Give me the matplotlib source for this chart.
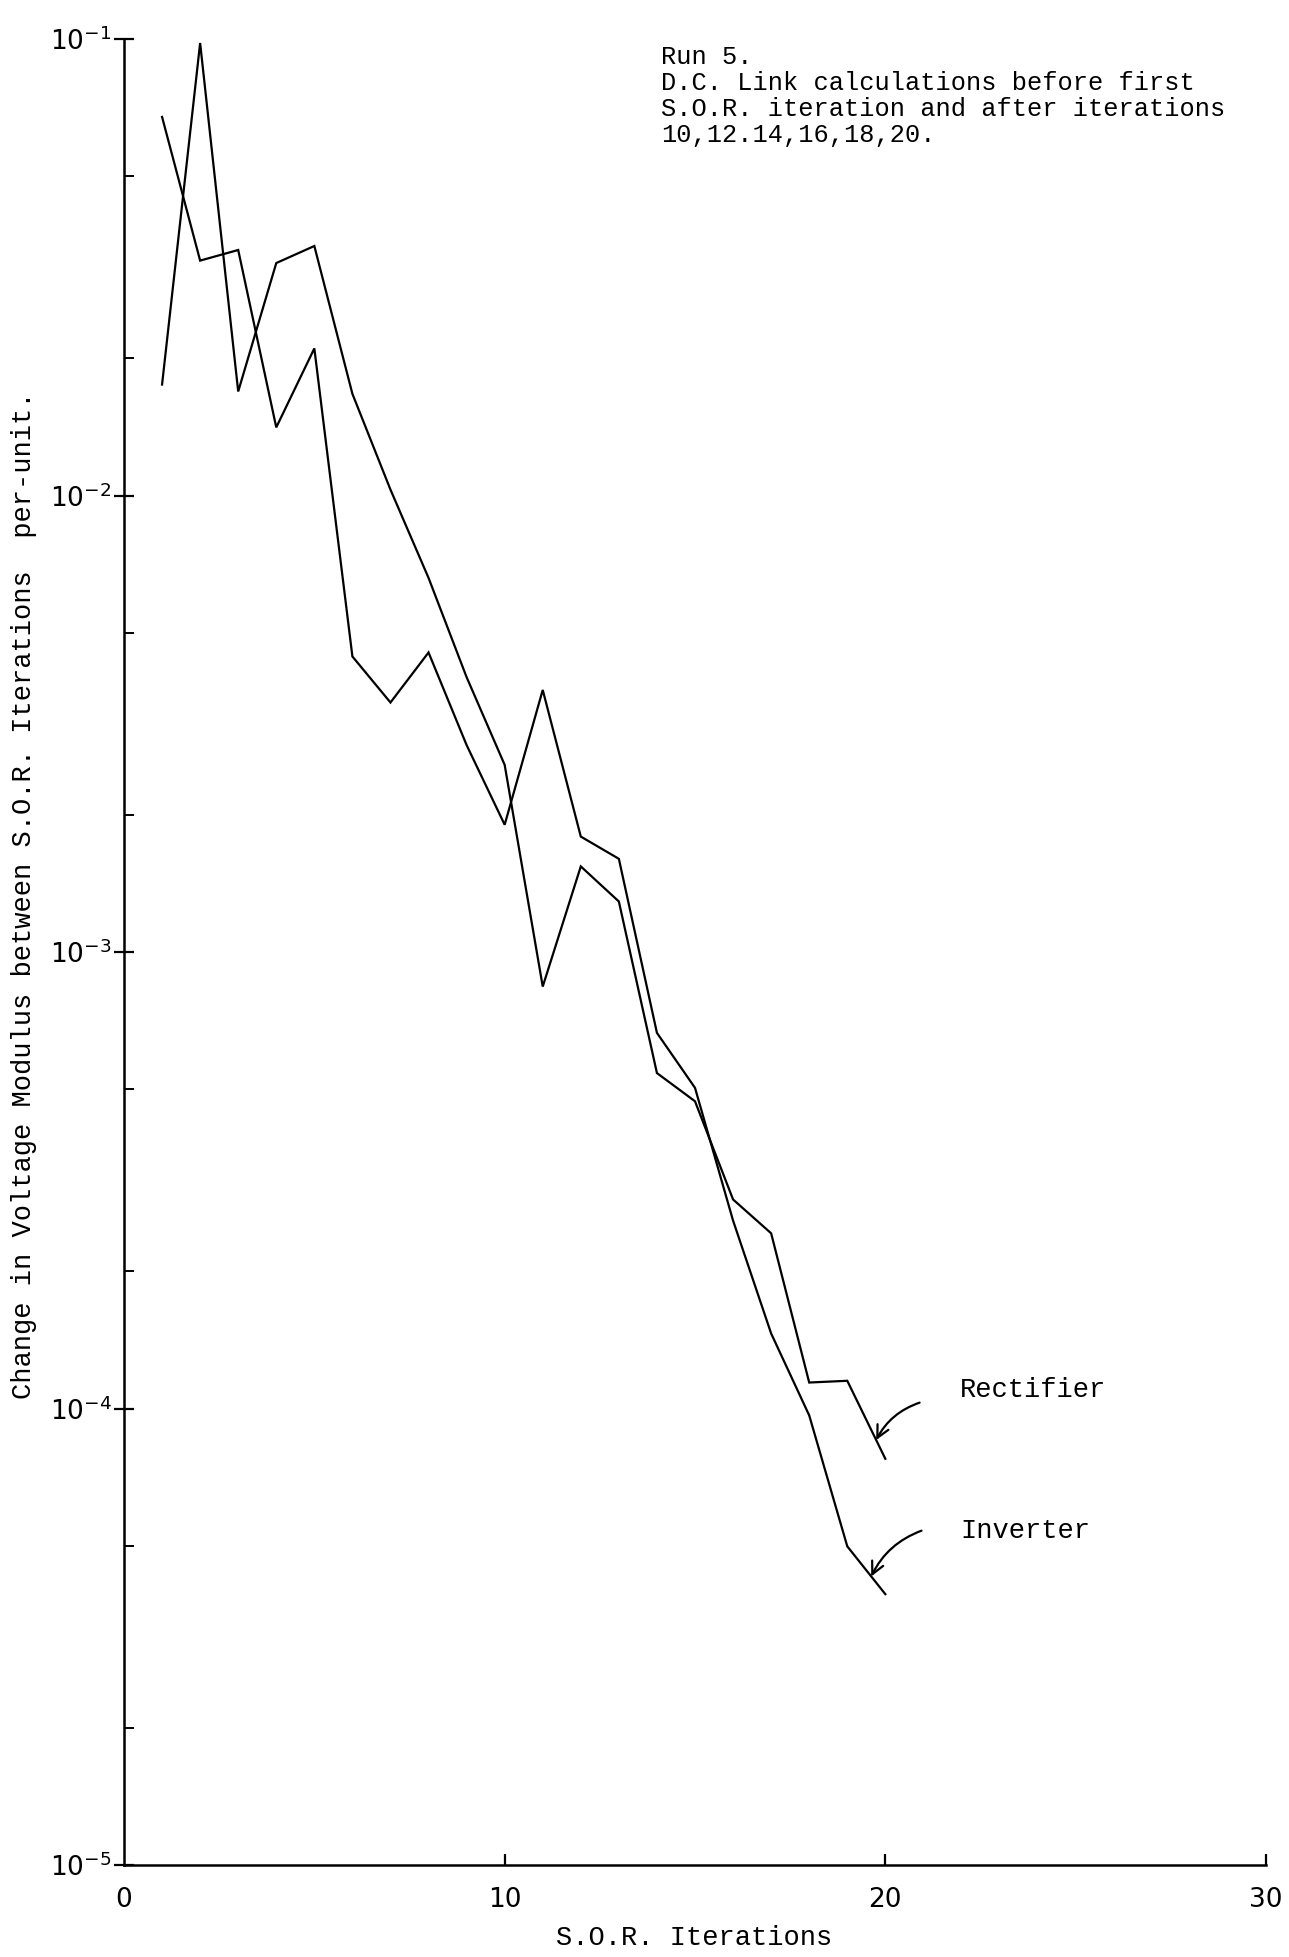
import numpy as np
import matplotlib
matplotlib.use("Agg")
import matplotlib.pyplot as plt
from matplotlib.ticker import FixedLocator, NullFormatter

# ---- data ----
iterations = list(range(1, 21))
rectifier = [0.0175, 0.098, 0.0169, 0.0323, 0.0352, 0.0167, 0.0103, 0.0066, 0.0040, 0.00257,
             0.00084, 0.00154, 0.00129, 0.000543, 0.000471, 0.000287, 0.000242, 0.000114,
             0.000115, 0.0000776]
inverter = [0.0675, 0.0327, 0.0345, 0.0141, 0.0210, 0.00444, 0.00352, 0.00453, 0.00284, 0.00190,
            0.00375, 0.00179, 0.00160, 0.000665, 0.000504, 0.000258, 0.000146, 0.0000966,
            0.0000499, 0.0000392]
x_ticks = [0, 10, 20, 30]
x_ticklabels = ["0", "10", "20", "30"]
y_ticks = [1e-5, 1e-4, 1e-3, 1e-2, 1e-1]
y_ticklabels = [r"$\mathregular{10^{-5}}$", r"$\mathregular{10^{-4}}$", r"$\mathregular{10^{-3}}$",
                r"$\mathregular{10^{-2}}$", r"$\mathregular{10^{-1}}$"]
y_minor = [m * 10.0 ** e for e in range(-5, -1) for m in (2, 5)]
note_lines = ["Run 5.",
              "D.C. Link calculations before first",
              "S.O.R. iteration and after iterations",
              "10,12.14,16,18,20."]

W, H = 1289, 1957
fig = plt.figure(figsize=(W / 100, H / 100), dpi=100)
fig.patch.set_facecolor("white")
left, right = 124 / W, 1266 / W
bottom, top = 1 - 1865 / H, 1 - 39 / H
ax = fig.add_axes([left, bottom, right - left, top - bottom])

ax.plot(iterations, rectifier, color="black", lw=1.6, solid_joinstyle="miter")
ax.plot(iterations, inverter, color="black", lw=1.6, solid_joinstyle="miter")

ax.set_yscale("log")
ax.set_xlim(0, 30)
ax.set_ylim(1e-5, 1e-1)

for s in ("top", "right"):
    ax.spines[s].set_visible(False)
for s in ("left", "bottom"):
    ax.spines[s].set_linewidth(1.8)

mono = "Liberation Mono"
ax.yaxis.set_major_locator(FixedLocator(y_ticks))
ax.set_yticklabels(y_ticklabels, fontsize=19, fontfamily="DejaVu Sans")
ax.yaxis.set_minor_locator(FixedLocator(y_minor))
ax.yaxis.set_minor_formatter(NullFormatter())
ax.tick_params(axis="y", which="major", direction="inout", length=14, width=1.6, pad=2)
ax.tick_params(axis="y", which="minor", direction="in", length=7, width=1.4)

ax.xaxis.set_major_locator(FixedLocator(x_ticks))
ax.set_xticklabels(x_ticklabels, fontsize=19, fontfamily="DejaVu Sans")
ax.tick_params(axis="x", which="major", direction="in", length=8, width=1.6, pad=16)
ax.xaxis.get_major_ticks()[0].tick1line.set_visible(False)

# axis titles placed as in the reference
fig.text(694 / W, 1 - 1938 / H, "S.O.R. Iterations", fontsize=19.5, fontfamily=mono,
         ha="center", va="center")
fig.text(24 / W, 1 - 895 / H,
         "Change in Voltage Modulus between S.O.R. Iterations  per-unit.",
         fontsize=19.5, fontfamily=mono, rotation=90, ha="center", va="center")

# header note
for i, line in enumerate(note_lines):
    fig.text(661 / W, 1 - (57 + 26 * i) / H, line, fontsize=18.3, fontfamily=mono,
             va="center", ha="left")

# labels with curved arrows
def on_line(series, xv):
    return 10 ** np.interp(xv, iterations, np.log10(series))

ax.annotate("", xy=(19.76, on_line(rectifier, 19.76)), xytext=(20.9, 1.03e-4),
            arrowprops=dict(arrowstyle="->", lw=1.6, color="black",
                            connectionstyle="arc3,rad=0.2", mutation_scale=22,
                            shrinkA=0, shrinkB=0))
ax.annotate("", xy=(19.63, on_line(inverter, 19.63)), xytext=(20.95, 5.4e-5),
            arrowprops=dict(arrowstyle="->", lw=1.6, color="black",
                            connectionstyle="arc3,rad=0.2", mutation_scale=22,
                            shrinkA=0, shrinkB=0))
fig.text(960 / W, 1 - 1390 / H, "Rectifier", fontsize=19.5, fontfamily=mono, va="center")
fig.text(960 / W, 1 - 1531 / H, "Inverter", fontsize=19.5, fontfamily=mono, va="center")

fig.savefig("out.png", dpi=100, facecolor="white")
